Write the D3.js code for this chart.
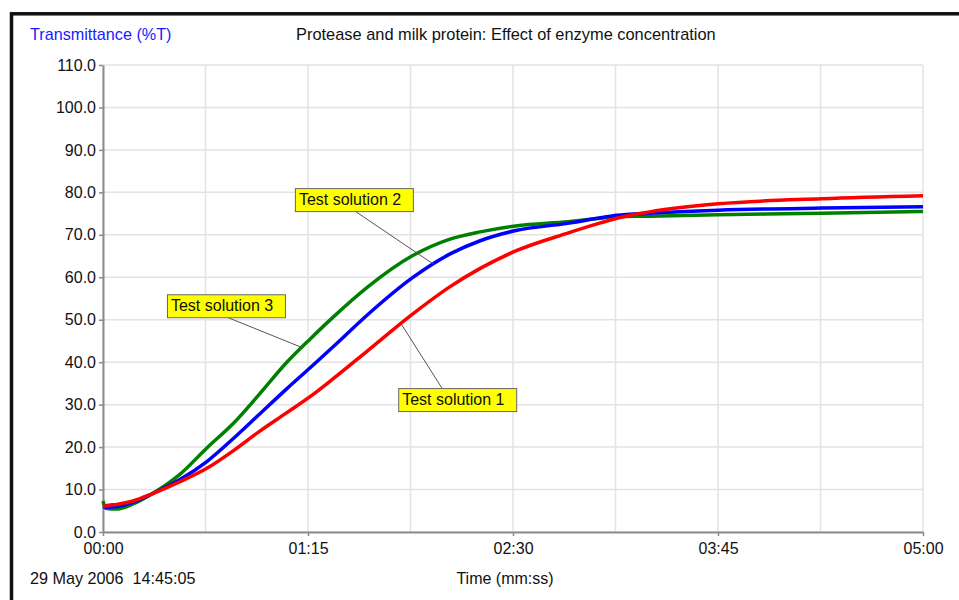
<!DOCTYPE html>
<html>
<head>
<meta charset="utf-8">
<script src="https://cdn.jsdelivr.net/npm/d3@7"></script>
<style>
  body { margin: 0; background: #fff; }
  svg { display: block; font-family: "Liberation Sans", Arial, sans-serif; }
</style>
</head>
<body>
<div id="chart"></div>
<script>
// time in seconds
var times = [0, 1, 5, 11, 18, 28, 38, 48, 57, 67, 76, 84, 97, 113, 127, 138, 151, 170, 182, 188, 200, 225, 263, 300];
var solution1 = [6.0, 6.2, 6.5, 7.3, 9.0, 11.8, 15.0, 19.3, 23.6, 28.0, 32.0, 36.0, 42.8, 51.2, 57.8, 62.1, 66.2, 70.4, 72.8, 73.9, 75.4, 77.3, 78.5, 79.2];
var solution2 = [6.0, 5.8, 6.0, 7.0, 9.0, 12.3, 16.6, 22.2, 27.6, 33.6, 38.8, 43.5, 51.3, 59.8, 65.5, 68.6, 71.0, 72.7, 74.0, 74.6, 75.1, 75.8, 76.3, 76.6];
var solution3 = [7.3, 5.6, 5.4, 6.6, 9.0, 13.5, 19.8, 25.8, 32.3, 39.8, 45.6, 50.5, 57.8, 65.0, 69.0, 70.7, 72.1, 73.1, 73.9, 74.3, 74.4, 74.7, 75.1, 75.5];
var seriesNames = ["Test solution 1", "Test solution 2", "Test solution 3"];
var xTicks = [0, 75, 150, 225, 300];
var yTicks = [0, 10, 20, 30, 40, 50, 60, 70, 80, 90, 100, 110];

var width = 959, height = 600;
var margin = {top: 65, right: 36, bottom: 68, left: 103};

var svg = d3.select("#chart").append("svg")
    .attr("width", width)
    .attr("height", height);

var xScale = d3.scaleLinear().domain([0, 300]).range([margin.left, width - margin.right]),
    yScale = d3.scaleLinear().domain([0, 110]).range([height - margin.bottom, margin.top]);

function mmss(s) {
  var m = Math.floor(s / 60), r = Math.round(s % 60);
  return (m < 10 ? "0" : "") + m + ":" + (r < 10 ? "0" : "") + r;
}

// outer frame
svg.append("rect")
   .attr("x", 11.5).attr("y", 13.8)
   .attr("width", 980).attr("height", 620)
   .attr("fill", "none")
   .attr("stroke", "#111")
   .attr("stroke-width", 3.5);

// grid
var grid = svg.append("g").attr("class", "grid");
grid.selectAll(".gx")
    .data(d3.range(0, 300.1, 37.5))
    .enter().append("line")
    .attr("x1", function(d) { return xScale(d); })
    .attr("x2", function(d) { return xScale(d); })
    .attr("y1", yScale(0)).attr("y2", yScale(110))
    .attr("stroke", "#e3e3e3").attr("stroke-width", 1.5);
grid.selectAll(".gy")
    .data(yTicks)
    .enter().append("line")
    .attr("x1", xScale(0)).attr("x2", xScale(300))
    .attr("y1", function(d) { return yScale(d); })
    .attr("y2", function(d) { return yScale(d); })
    .attr("stroke", "#e3e3e3").attr("stroke-width", 1.5);

// axes
var xAxis = d3.axisBottom(xScale).tickValues(xTicks).tickFormat(mmss).tickSize(4).tickSizeOuter(0),
    yAxis = d3.axisLeft(yScale).tickValues(yTicks).tickFormat(d3.format(".1f")).tickSize(4).tickSizeOuter(0);

var gx = svg.append("g")
    .attr("transform", "translate(0," + yScale(0) + ")")
    .call(xAxis);
var gy = svg.append("g")
    .attr("transform", "translate(" + xScale(0) + ",0)")
    .call(yAxis);

[gx, gy].forEach(function(g) {
  g.select(".domain").attr("stroke", "#8c8c8c").attr("stroke-width", 2);
  g.selectAll(".tick line").attr("stroke", "#8c8c8c").attr("stroke-width", 1.5);
  g.selectAll(".tick text").attr("fill", "#111").style("font-size", "16px")
   .style("font-family", "Liberation Sans, Arial, sans-serif");
});
gx.selectAll(".tick text").attr("dy", "0.95em").attr("y", 7);
gy.selectAll(".tick text").attr("x", -7);

// curves
var line = d3.line()
    .curve(d3.curveMonotoneX)
    .x(function(d) { return xScale(d[0]); })
    .y(function(d) { return yScale(d[1]); });

var series = [
  {name: seriesNames[2], values: solution3, color: "#008000"},
  {name: seriesNames[1], values: solution2, color: "#0000ff"},
  {name: seriesNames[0], values: solution1, color: "#ff0000"}
];

svg.selectAll(".series")
   .data(series)
   .enter().append("path")
   .attr("class", "series")
   .attr("fill", "none")
   .attr("stroke", function(d) { return d.color; })
   .attr("stroke-width", 3.5)
   .attr("stroke-linejoin", "round")
   .attr("d", function(d) { return line(times.map(function(t, i) { return [t, d.values[i]]; })); });

function valueAt(values, t) {
  var i = d3.bisectLeft(times, t);
  if (i <= 0) return values[0];
  var t0 = times[i - 1], t1 = times[i];
  return values[i - 1] + (values[i] - values[i - 1]) * (t - t0) / (t1 - t0);
}

// labels: box corner in data units, leader from the box edge to the curve
var labels = [
  {text: seriesNames[1], values: solution2, t: 70.2, v: 81.0, at: 121, fromT: 92.2, fromTop: false},
  {text: seriesNames[2], values: solution3, t: 23.4, v: 56.0, at: 72.7, fromT: 45.4, fromTop: false},
  {text: seriesNames[0], values: solution1, t: 108.0, v: 33.9, at: 109, fromT: 124.0, fromTop: true}
];
var boxW = 118, boxH = 23;

var lab = svg.selectAll(".label")
   .data(labels)
   .enter().append("g")
   .attr("class", "label");

lab.append("line")
   .attr("x1", function(d) { return xScale(d.fromT); })
   .attr("y1", function(d) { return yScale(d.v) + (d.fromTop ? 0 : boxH); })
   .attr("x2", function(d) { return xScale(d.at); })
   .attr("y2", function(d) { return yScale(valueAt(d.values, d.at)); })
   .attr("stroke", "#555").attr("stroke-width", 1);

lab.append("rect")
   .attr("x", function(d) { return xScale(d.t) + 0.5; })
   .attr("y", function(d) { return yScale(d.v) + 0.5; })
   .attr("width", boxW).attr("height", boxH)
   .attr("fill", "#ffff00")
   .attr("stroke", "#666").attr("stroke-width", 1);

lab.append("text")
   .attr("x", function(d) { return xScale(d.t) + 4; })
   .attr("y", function(d) { return yScale(d.v) + 17; })
   .style("font-size", "16px")
   .attr("fill", "#111")
   .text(function(d) { return d.text; });

// titles
svg.append("text")
   .attr("x", 30).attr("y", 40)
   .attr("fill", "#1a1aff")
   .style("font-size", "16.2px")
   .text("Transmittance (%T)");

svg.append("text")
   .attr("x", 296).attr("y", 40)
   .attr("fill", "#111")
   .style("font-size", "16.4px")
   .text("Protease and milk protein: Effect of enzyme concentration");

svg.append("text")
   .attr("x", 30).attr("y", 584)
   .attr("fill", "#111")
   .style("font-size", "16.2px")
   .style("white-space", "pre")
   .attr("xml:space", "preserve")
   .text("29 May 2006  14:45:05");

svg.append("text")
   .attr("x", 505).attr("y", 584)
   .attr("text-anchor", "middle")
   .attr("fill", "#111")
   .style("font-size", "16px")
   .text("Time (mm:ss)");
</script>
</body>
</html>
